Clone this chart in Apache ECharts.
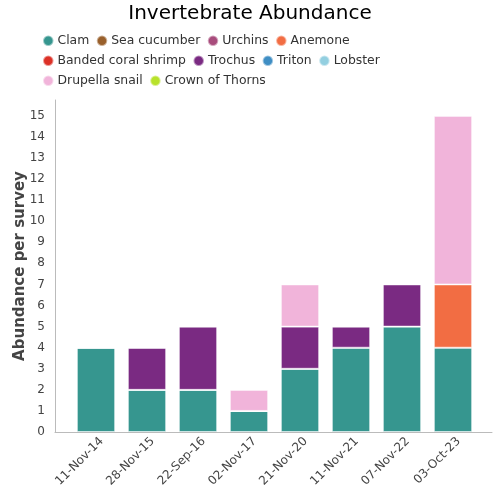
<!DOCTYPE html>
<html><head><meta charset="utf-8">
<script src="https://cdn.jsdelivr.net/npm/echarts@6/dist/echarts.min.js"></script>
<style>html,body{margin:0;padding:0;background:#fff}#c{width:500px;height:500px}</style>
</head><body><div id="c"></div>
<script>
const categories = ["11-Nov-14","28-Nov-15","22-Sep-16","02-Nov-17","21-Nov-20","11-Nov-21","07-Nov-22","03-Oct-23"];
const seriesNames = ["Clam","Sea cucumber","Urchins","Anemone","Banded coral shrimp","Trochus","Triton","Lobster","Drupella snail","Crown of Thorns"];
const clam = [4,2,2,1,3,4,5,4];
const seaCucumber = [0,0,0,0,0,0,0,0];
const urchins = [0,0,0,0,0,0,0,0];
const anemone = [0,0,0,0,0,0,0,3];
const bandedShrimp = [0,0,0,0,0,0,0,0];
const trochus = [0,2,3,0,2,1,2,0];
const triton = [0,0,0,0,0,0,0,0];
const lobster = [0,0,0,0,0,0,0,0];
const drupella = [0,0,0,1,2,0,0,8];
const crownOfThorns = [0,0,0,0,0,0,0,0];
const seriesValues = [clam,seaCucumber,urchins,anemone,bandedShrimp,trochus,triton,lobster,drupella,crownOfThorns];
const colors = ["#36968f","#99602c","#a84c7c","#f26d43","#dc3127","#7a2a82","#3f8ec4","#93cfe0","#f1b4da","#b8e22b"];
const yMax = 15.75;

const font = 'DejaVu Sans';
const chart = echarts.init(document.getElementById('c'), null, {renderer:'canvas'});
chart.setOption({
  animation:false,
  color: colors,
  title:{text:'Invertebrate Abundance', left:'center', top:-1, textStyle:{fontFamily:font, fontSize:20, fontWeight:'normal', color:'#000'}},
  legend:{left:37, width:410, top:29, itemGap:6.5, itemWidth:10.5, itemHeight:10.5, icon:'circle',
    textStyle:{fontFamily:font, fontSize:12.4, color:'#333', padding:[0,0,0,-1], lineHeight:13.5}, data:seriesNames},
  grid:[
    {left:70.5, right:21.5, top:100, bottom:68},
    {left:55, right:8, top:100, bottom:68}
  ],
  xAxis:[
    {type:'category', gridIndex:0, data:categories,
      axisLine:{show:false}, axisTick:{show:false},
      axisLabel:{rotate:45, interval:0, fontFamily:font, fontSize:12, color:'#444', margin:13, padding:[0,-8,0,0]}},
    {type:'value', gridIndex:1, min:0, max:1,
      axisLine:{show:true, onZero:false, lineStyle:{color:'#bbb'}}, axisTick:{show:false}, axisLabel:{show:false}, splitLine:{show:false}}
  ],
  yAxis:[
    {type:'value', gridIndex:0, min:0, max:yMax, show:false, splitLine:{show:false}},
    {type:'value', gridIndex:1, min:0, max:yMax, interval:1,
      name:'Abundance per survey', nameLocation:'middle', nameGap:27, nameMoveOverlap:false,
      nameTextStyle:{fontFamily:font, fontSize:15, fontWeight:'bold', color:'#444'},
      axisLine:{show:true, lineStyle:{color:'#bbb'}}, axisTick:{show:false}, splitLine:{show:false},
      axisLabel:{showMaxLabel:false, fontFamily:font, fontSize:12, color:'#444', margin:10,
        formatter:function(v){return Number.isInteger(v)?String(v):'';}}}
  ],
  series: seriesNames.map((n,i)=>({name:n, type:'bar', stack:'total', xAxisIndex:0, yAxisIndex:0, barWidth:'75%', data:seriesValues[i],
    itemStyle:{borderColor:'rgba(255,255,255,0.5)', borderWidth:1}}))
});
</script></body></html>
